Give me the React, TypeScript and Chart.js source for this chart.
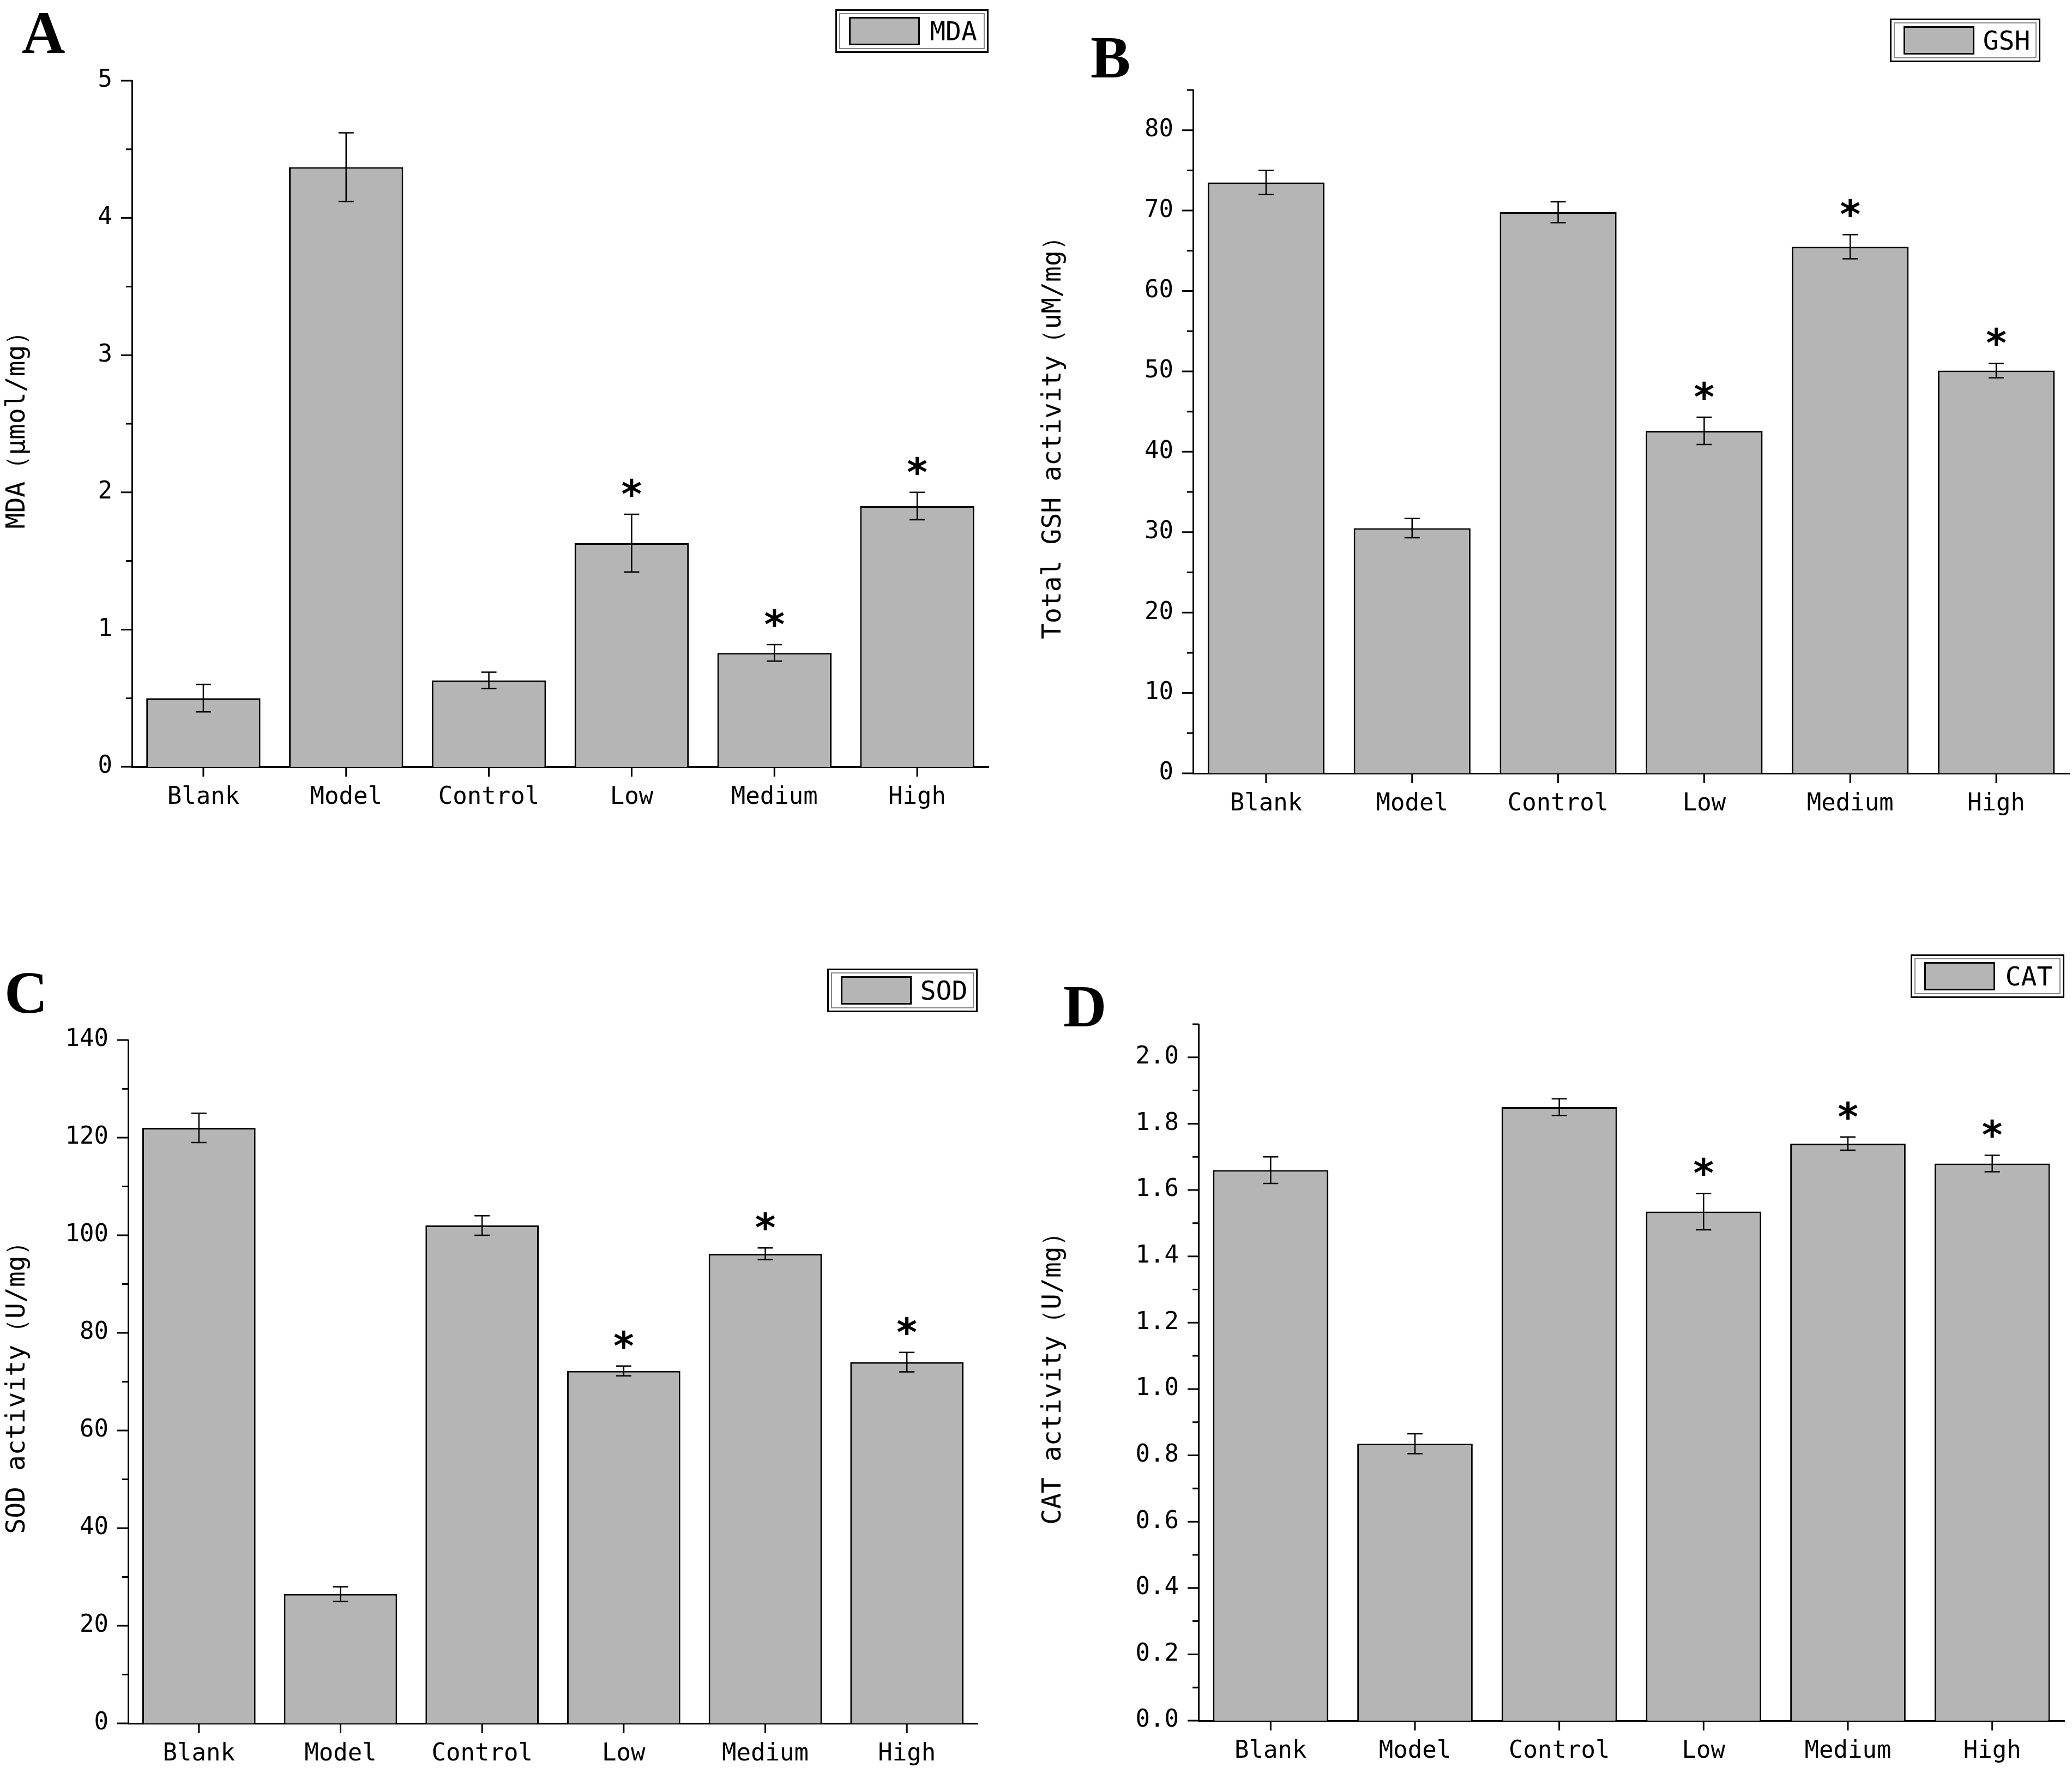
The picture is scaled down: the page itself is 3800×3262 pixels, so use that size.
import React, { useEffect, useRef } from "react";
import { Chart, registerables } from "chart.js";
Chart.register(...registerables);

const categories = ["Blank", "Model", "Control", "Low", "Medium", "High"];
const mdaValues = [0.5, 4.37, 0.63, 1.63, 0.83, 1.9];
const mdaErrors = [0.1, 0.25, 0.06, 0.21, 0.06, 0.1];
const gshValues = [73.5, 30.5, 69.8, 42.6, 65.5, 50.1];
const gshErrors = [1.5, 1.2, 1.3, 1.7, 1.5, 0.9];
const sodValues = [122, 26.5, 102, 72.2, 96.2, 74];
const sodErrors = [3, 1.5, 2, 1, 1.2, 2];
const catValues = [1.66, 0.835, 1.85, 1.535, 1.74, 1.68];
const catErrors = [0.04, 0.03, 0.025, 0.055, 0.02, 0.025];
const mdaStars = [false, false, false, true, true, true];
const otherStars = [false, false, false, true, true, true];

const FONT = "'DejaVu Sans Mono', monospace";

type Panel = {
  letter: string; legend: string; title: string; values: number[]; errors: number[]; stars: boolean[];
  max: number; step: number; minor: number; decimals: number;
  L: number; T: number; W: number; H: number; yW: number; padR: number; padT: number; xH: number;
  letterPos: [number, number]; legendPos: [number, number, number, number];
};

const panels: Panel[] = [
  { letter: "A", legend: "MDA", title: "MDA（μmol/mg）", values: mdaValues, errors: mdaErrors, stars: mdaStars,
    max: 5, step: 1, minor: 0.5, decimals: 0, L: 0, T: 0, W: 1900, H: 1600, yW: 242, padR: 87, padT: 148, xH: 194,
    letterPos: [40, 5], legendPos: [1532, 17, 281, 80] },
  { letter: "B", legend: "GSH", title: "Total GSH activity（uM/mg）", values: gshValues, errors: gshErrors, stars: otherStars,
    max: 85, step: 10, minor: 5, decimals: 0, L: 1900, T: 0, W: 1900, H: 1600, yW: 288, padR: 5, padT: 165, xH: 182,
    letterPos: [2000, 50], legendPos: [3466, 34, 276, 80] },
  { letter: "C", legend: "SOD", title: "SOD activity（U/mg）", values: sodValues, errors: sodErrors, stars: otherStars,
    max: 140, step: 20, minor: 10, decimals: 0, L: 0, T: 1600, W: 1900, H: 1662, yW: 235, padR: 107, padT: 307, xH: 102,
    letterPos: [8, 1765], legendPos: [1517, 1776, 276, 80] },
  { letter: "D", legend: "CAT", title: "CAT activity（U/mg）", values: catValues, errors: catErrors, stars: otherStars,
    max: 2.1, step: 0.2, minor: 0.1, decimals: 1, L: 1900, T: 1600, W: 1900, H: 1662, yW: 298, padR: 14, padT: 278, xH: 107,
    letterPos: [1950, 1790], legendPos: [3504, 1750, 282, 80] },
];

function PanelChart({ p }: { p: Panel }) {
  const ref = useRef<HTMLCanvasElement>(null);
  useEffect(() => {
    const extras = {
      id: "extras",
      afterDatasetsDraw(chart: any) {
        const ctx = chart.ctx;
        const y = chart.scales.y;
        const x = chart.scales.x;
        const meta = chart.getDatasetMeta(0);
        ctx.save();
        ctx.strokeStyle = "#000";
        ctx.fillStyle = "#000";
        ctx.lineWidth = 2.5;
        meta.data.forEach((bar: any, i: number) => {
          const v = p.values[i], e = p.errors[i];
          const yt = y.getPixelForValue(v + e), yb = y.getPixelForValue(v - e);
          ctx.beginPath();
          ctx.moveTo(bar.x, yt); ctx.lineTo(bar.x, yb);
          ctx.moveTo(bar.x - 14, yt); ctx.lineTo(bar.x + 14, yt);
          ctx.moveTo(bar.x - 14, yb); ctx.lineTo(bar.x + 14, yb);
          ctx.stroke();
          if (p.stars[i]) {
            ctx.font = "bold 72px 'DejaVu Sans'";
            ctx.textAlign = "center";
            ctx.textBaseline = "alphabetic";
            ctx.fillText("*", bar.x, yt - 12);
          }
        });
        // axis ticks
        ctx.lineWidth = 3;
        ctx.beginPath();
        const n = Math.round(p.max / p.minor);
        for (let k = 0; k <= n; k++) {
          const val = k * p.minor;
          const py = y.getPixelForValue(val);
          const major = Math.abs(val / p.step - Math.round(val / p.step)) < 1e-6;
          ctx.moveTo(y.right, py); ctx.lineTo(y.right - (major ? 20 : 11), py);
        }
        meta.data.forEach((bar: any) => {
          ctx.moveTo(bar.x, x.top); ctx.lineTo(bar.x, x.top + 18);
        });
        ctx.stroke();
        ctx.restore();
      },
    };
    const chart = new Chart(ref.current!, {
      type: "bar",
      data: {
        labels: categories,
        datasets: [{ data: p.values, backgroundColor: "#b5b5b5", borderColor: "#000", borderWidth: 3,
          barPercentage: 0.8, categoryPercentage: 1 }],
      },
      options: {
        animation: false, responsive: false, maintainAspectRatio: false,
        layout: { padding: { left: 0, right: p.padR, top: p.padT, bottom: 0 } },
        plugins: { legend: { display: false }, tooltip: { enabled: false } },
        scales: {
          x: {
            grid: { display: false }, border: { display: true, color: "#000", width: 3 },
            ticks: { color: "#000", font: { family: FONT, size: 44 }, padding: 22 },
            afterFit: (s: any) => { s.height = p.xH; },
          },
          y: {
            min: 0, max: p.max,
            afterBuildTicks: (s: any) => {
              const t = [];
              for (let v = 0; v <= p.max + 1e-9; v += p.step) t.push({ value: Math.round(v * 1000) / 1000 });
              s.ticks = t;
            },
            grid: { display: false }, border: { display: true, color: "#000", width: 3 },
            ticks: { color: "#000", font: { family: FONT, size: 44 }, padding: 28,
              callback: (v: any) => Number(v).toFixed(p.decimals) },
            title: { display: true, text: p.title, color: "#000", font: { family: FONT, size: 48 }, padding: { bottom: 14 } },
            afterFit: (s: any) => { s.width = p.yW; },
          },
        },
      },
      plugins: [extras],
    } as any);
    return () => chart.destroy();
  }, []);
  const [lx, ly, lw, lh] = p.legendPos;
  return (
    <>
      <canvas ref={ref} width={p.W} height={p.H}
        style={{ position: "absolute", left: p.L, top: p.T, width: p.W, height: p.H }} />
      <div style={{ position: "absolute", left: p.letterPos[0], top: p.letterPos[1], fontFamily: "'Liberation Serif', serif",
        fontWeight: "bold", fontSize: 110, lineHeight: 1 }}>{p.letter}</div>
      <div style={{ position: "absolute", left: lx, top: ly, width: lw, height: lh, boxSizing: "border-box",
        border: "3px solid #000", outline: "2px solid #888", outlineOffset: -9, display: "flex", alignItems: "center" }}>
        <div style={{ marginLeft: 22, width: 130, height: 52, background: "#b5b5b5", border: "3px solid #000", boxSizing: "border-box" }} />
        <div style={{ flex: 1, textAlign: "center", fontFamily: FONT, fontSize: 48, color: "#000" }}>{p.legend}</div>
      </div>
    </>
  );
}

export default function App() {
  return (
    <div style={{ position: "absolute", left: 0, top: 0, width: 3800, height: 3262, background: "#fff" }}>
      {panels.map((p) => <PanelChart key={p.letter} p={p} />)}
    </div>
  );
}
